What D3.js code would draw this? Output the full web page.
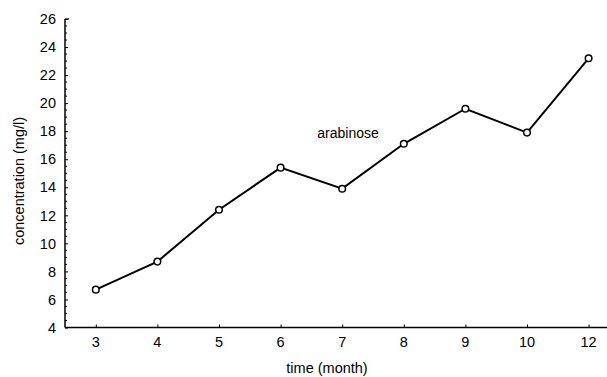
<!DOCTYPE html>
<html>
<head>
<meta charset="utf-8">
<script src="https://cdn.jsdelivr.net/npm/d3@7"></script>
<style>
  body { margin: 0; background: #fff; }
  text { font-family: "Liberation Sans", Arial, sans-serif; }
</style>
</head>
<body>
<div id="chart-area"></div>
<script>

// Data
var months = ["3", "4", "5", "6", "7", "8", "9", "10", "12"];
var arabinose = [6.7, 8.7, 12.4, 15.4, 13.9, 17.1, 19.6, 17.9, 23.2];
var yTicks = [4, 6, 8, 10, 12, 14, 16, 18, 20, 22, 24, 26];

var W = 607, H = 377;
var axisLeft = 65, axisBottom = 327.5, axisTop = 19, axisRight = 607;

var svg = d3.select("#chart-area").append("svg")
    .attr("width", W)
    .attr("height", H);

// Scales
var step = 61.6;
var x = d3.scalePoint()
    .domain(months)
    .range([axisLeft + step / 2, axisLeft + step / 2 + step * (months.length - 1)]);

var y = d3.scaleLinear()
    .domain([4, 26])
    .range([axisBottom, axisTop]);

// Y axis: major ticks inward, with minor ticks
var yAxis = d3.axisRight(y)
    .tickValues(yTicks)
    .tickSize(3)
    .tickFormat("");
svg.append("g")
    .attr("class", "axis y-axis")
    .attr("transform", "translate(" + axisLeft + ",0)")
    .call(yAxis)
    .call(function(g) { g.select(".domain").remove(); });

var minor = d3.range(4, 26.01, 0.5).filter(function(v) { return v % 2 !== 0; });
svg.append("g")
    .selectAll("line")
    .data(minor)
    .enter().append("line")
    .attr("x1", axisLeft)
    .attr("x2", axisLeft + 2)
    .attr("y1", function(d) { return y(d); })
    .attr("y2", function(d) { return y(d); })
    .attr("stroke", "#000")
    .attr("stroke-width", 1);

svg.append("g")
    .selectAll("text")
    .data(yTicks)
    .enter().append("text")
    .attr("x", axisLeft - 9)
    .attr("y", function(d) { return y(d); })
    .attr("dy", "0.36em")
    .attr("text-anchor", "end")
    .attr("font-size", 14.5)
    .text(function(d) { return d; });

// Axis lines
svg.append("line")
    .attr("x1", axisLeft).attr("x2", axisLeft)
    .attr("y1", axisTop).attr("y2", axisBottom)
    .attr("stroke", "#000").attr("stroke-width", 1.5);
svg.append("line")
    .attr("x1", axisLeft).attr("x2", axisLeft + 4)
    .attr("y1", axisTop).attr("y2", axisTop)
    .attr("stroke", "#000").attr("stroke-width", 1.2);
svg.append("line")
    .attr("x1", axisLeft).attr("x2", axisRight)
    .attr("y1", axisBottom).attr("y2", axisBottom)
    .attr("stroke", "#000").attr("stroke-width", 1.5);

// X axis ticks (inward) and labels
var xAxis = d3.axisTop(x).tickSize(3).tickFormat("");
svg.append("g")
    .attr("class", "axis x-axis")
    .attr("transform", "translate(0," + axisBottom + ")")
    .call(xAxis)
    .call(function(g) { g.select(".domain").remove(); });

svg.append("g")
    .selectAll("text")
    .data(months)
    .enter().append("text")
    .attr("x", function(d) { return x(d); })
    .attr("y", 347)
    .attr("text-anchor", "middle")
    .attr("font-size", 14.5)
    .text(function(d) { return d; });

// Axis titles
svg.append("text")
    .attr("x", 327)
    .attr("y", 373)
    .attr("text-anchor", "middle")
    .attr("font-size", 14.5)
    .text("time (month)");

svg.append("text")
    .attr("transform", "translate(24,181) rotate(-90)")
    .attr("text-anchor", "middle")
    .attr("font-size", 14.5)
    .text("concentration (mg/l)");

// Line
var line = d3.line()
    .x(function(d, i) { return x(months[i]); })
    .y(function(d) { return y(d); });

svg.append("path")
    .datum(arabinose)
    .attr("d", line)
    .attr("fill", "none")
    .attr("stroke", "#000")
    .attr("stroke-width", 2);

svg.selectAll("circle")
    .data(arabinose)
    .enter().append("circle")
    .attr("cx", function(d, i) { return x(months[i]); })
    .attr("cy", function(d) { return y(d); })
    .attr("r", 3.3)
    .attr("fill", "#fff")
    .attr("stroke", "#000")
    .attr("stroke-width", 1.5);

// Series label
svg.append("text")
    .attr("x", 348)
    .attr("y", 138)
    .attr("text-anchor", "middle")
    .attr("font-size", 14)
    .text("arabinose");

</script>
</body>
</html>
